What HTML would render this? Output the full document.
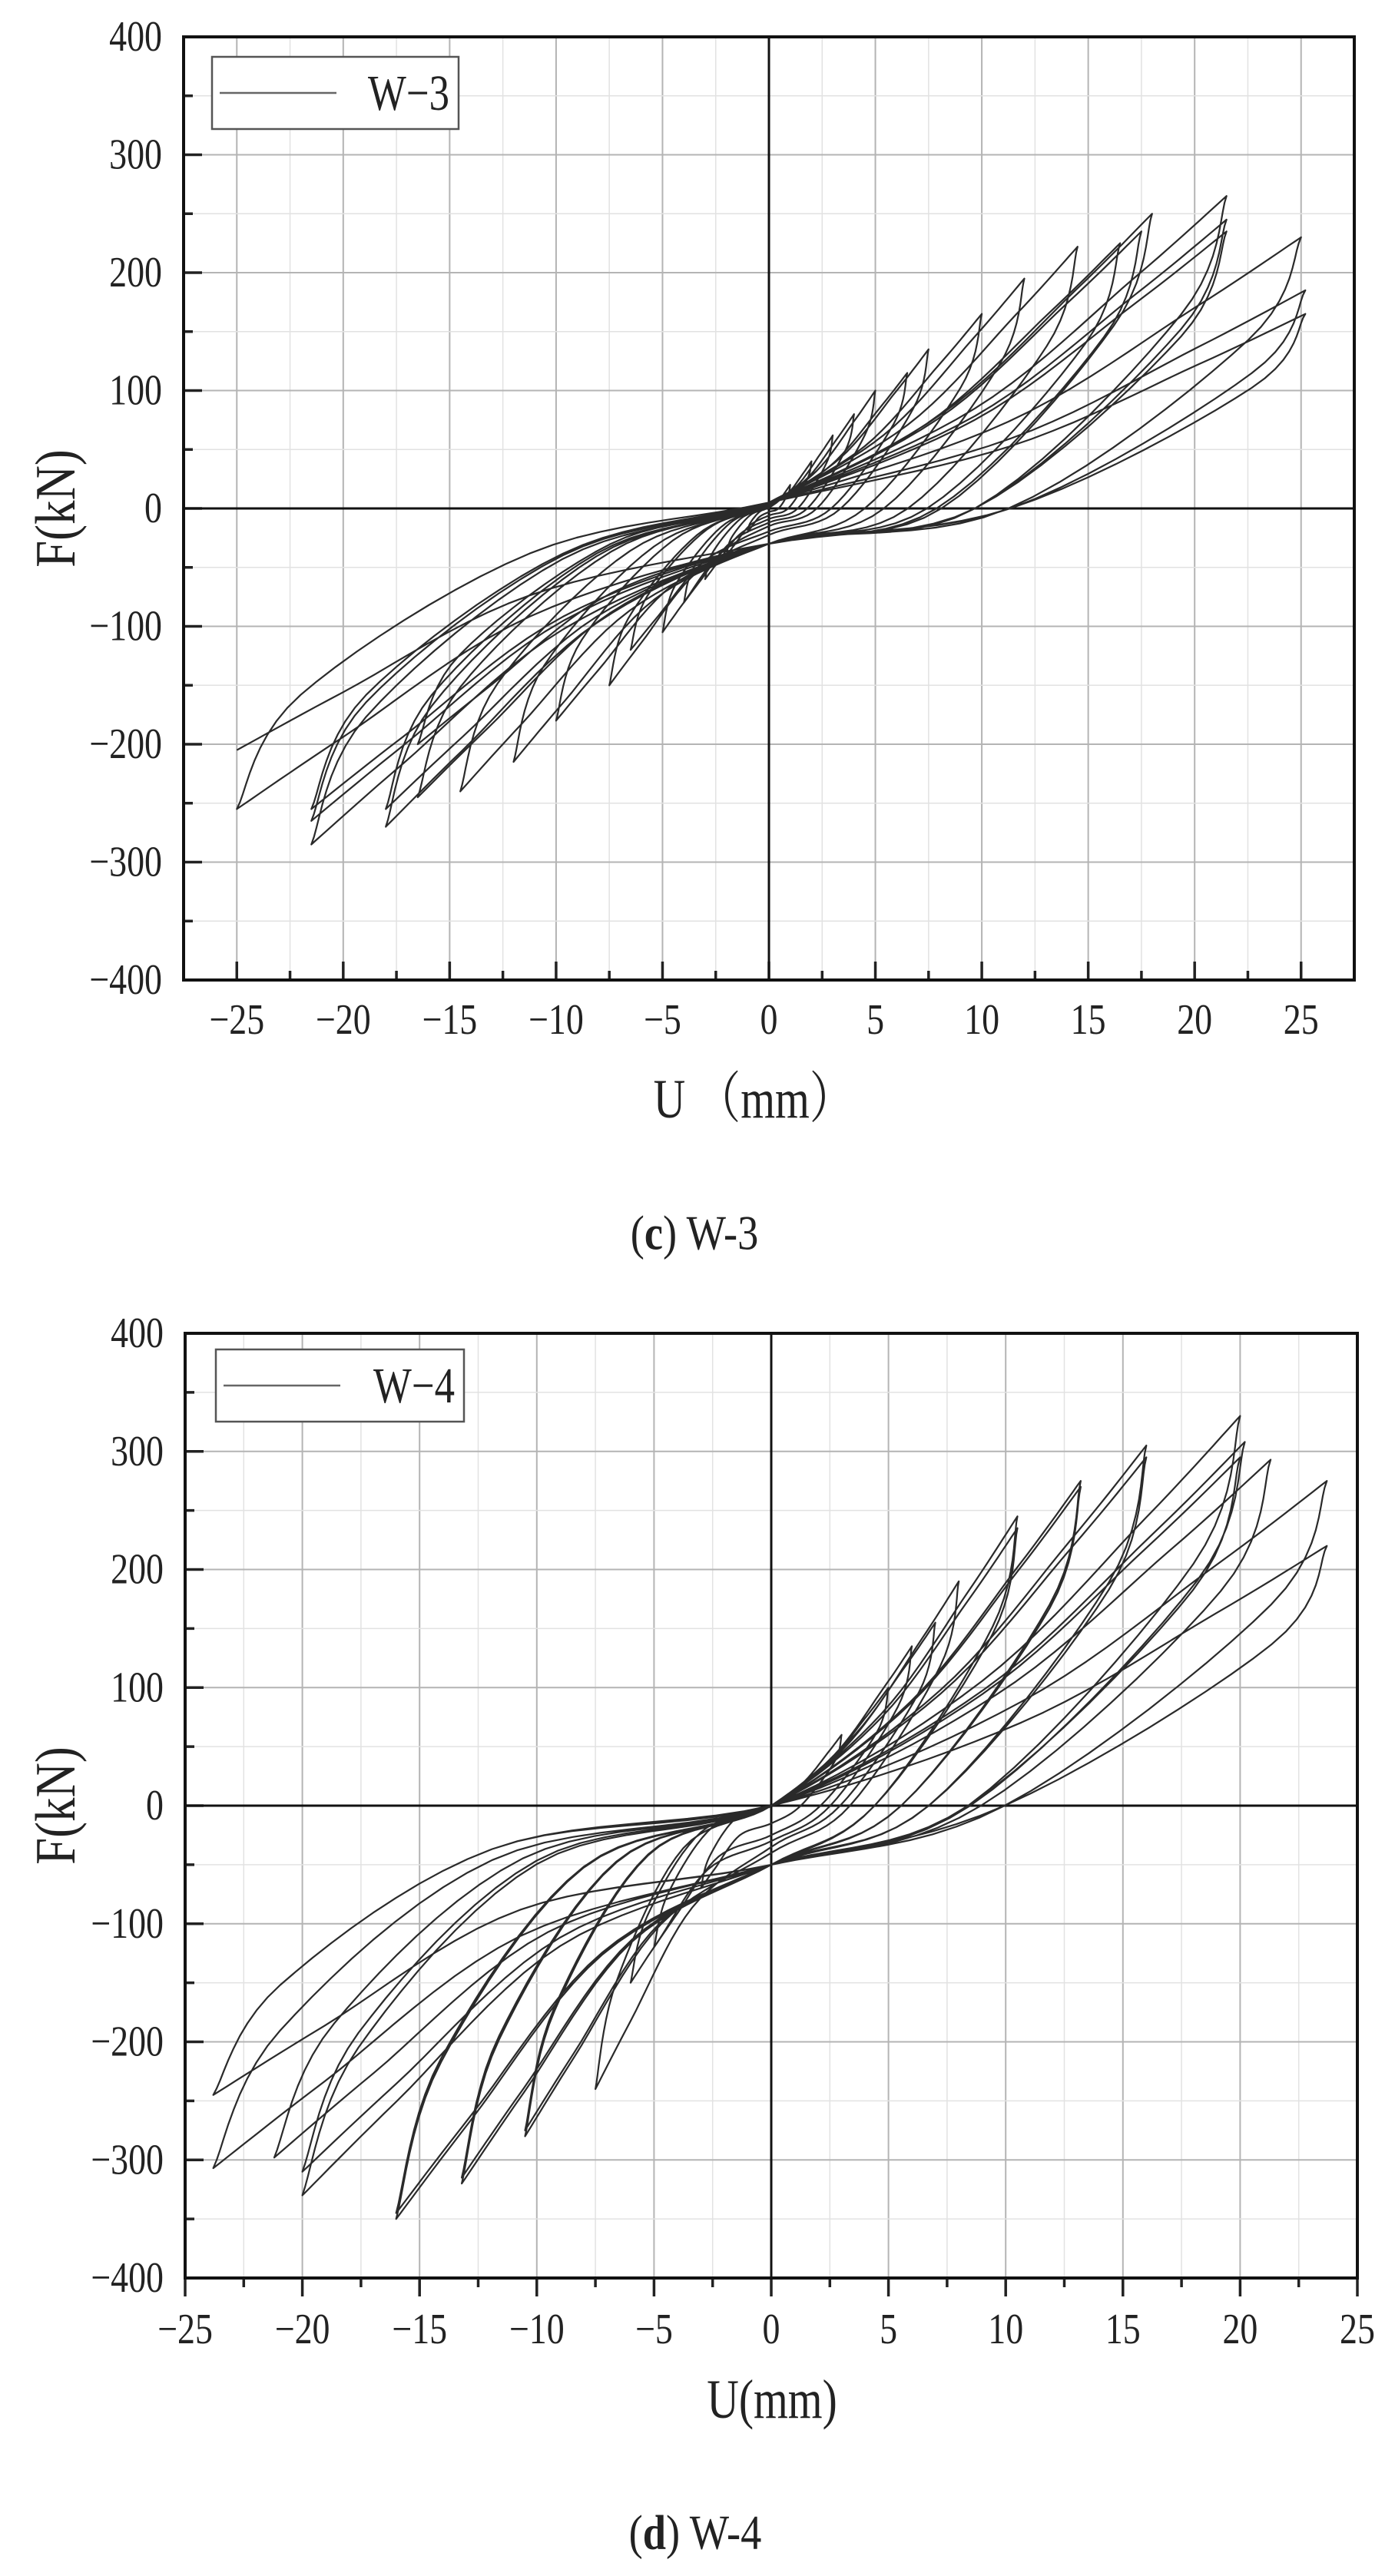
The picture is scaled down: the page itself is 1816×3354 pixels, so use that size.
<!DOCTYPE html>
<html><head><meta charset="utf-8"><style>
html,body{margin:0;padding:0;background:#fff;}
svg{display:block;}
text{font-family:"Liberation Serif","Noto Serif CJK SC",serif;fill:#222;}
</style></head><body>
<svg id="s" width="1816" height="3354" viewBox="0 0 1816 3354" xmlns="http://www.w3.org/2000/svg">
<g id="c1"></g><g id="c2"></g>
<g transform="translate(72 662) rotate(-90) scale(0.85 1)"><text x="0" y="0" font-size="74" text-anchor="middle" dominant-baseline="central">F(kN)</text></g>
<g transform="translate(981 1432) scale(0.8 1)"><text x="0" y="0" font-size="72" text-anchor="middle" dominant-baseline="central">U （mm）</text></g>
<g transform="translate(904 1605) scale(0.85 1)"><text x="0" y="0" font-size="64" text-anchor="middle" dominant-baseline="central">(<tspan font-weight="bold">c</tspan>) W-3</text></g>
<g transform="translate(72 2351) rotate(-90) scale(0.85 1)"><text x="0" y="0" font-size="74" text-anchor="middle" dominant-baseline="central">F(kN)</text></g>
<g transform="translate(1005 3125) scale(0.8 1)"><text x="0" y="0" font-size="72" text-anchor="middle" dominant-baseline="central">U(mm)</text></g>
<g transform="translate(905 3297) scale(0.85 1)"><text x="0" y="0" font-size="64" text-anchor="middle" dominant-baseline="central">(<tspan font-weight="bold">d</tspan>) W-4</text></g>
</svg>
<script>
var NS="http://www.w3.org/2000/svg";
function el(p,t,a,txt){var e=document.createElementNS(NS,t);for(var k in a)e.setAttribute(k,a[k]);if(txt!=null)e.textContent=txt;p.appendChild(e);return e;}
function txt(g,x,y,size,anchor,s,sx){var gg=el(g,'g',{transform:'translate('+x+' '+y+') scale('+(sx||0.82)+' 1)'});el(gg,'text',{x:0,y:0,'font-size':size,'text-anchor':anchor,'dominant-baseline':'central'},s);}
function chart(g,o){
 var X=function(v){return o.L+(v-o.xmin)/(o.xmax-o.xmin)*(o.R-o.L);};
 var Y=function(v){return o.T+(400-v)/800*(o.B-o.T);};
 for(var v=-25;v<=25;v+=2.5){var x=X(v);if(x<=o.L+1||x>=o.R-1)continue;el(g,'line',{x1:x,x2:x,y1:o.T,y2:o.B,stroke:(v%5==0)?'#b4b4b4':'#e2e2e2','stroke-width':(v%5==0)?2:1.5});}
 for(var v=-350;v<=350;v+=50){var y=Y(v);el(g,'line',{x1:o.L,x2:o.R,y1:y,y2:y,stroke:(v%100==0)?'#b4b4b4':'#e2e2e2','stroke-width':(v%100==0)?2:1.5});}
 for(var v=-25;v<=25;v+=2.5){var x=X(v),len=(v%5==0)?24:12;
  if(o.tin) el(g,'line',{x1:x,x2:x,y1:o.B,y2:o.B-len,stroke:'#222','stroke-width':3.5});
  else el(g,'line',{x1:x,x2:x,y1:o.B,y2:o.B+len,stroke:'#222','stroke-width':3.5});
  if(v%5==0) txt(g,x,o.ty,56,'middle',(v<0?'\u2212'+(-v):''+v));}
 for(var v=-400;v<=400;v+=50){var y=Y(v),len=(v%100==0)?24:12;
  el(g,'line',{x1:o.L,x2:o.L+len,y1:y,y2:y,stroke:'#222','stroke-width':3.5});
  if(v%100==0) txt(g,o.L-28,y,56,'end',(v<0?'\u2212'+(-v):''+v));}
 el(g,'line',{x1:X(0),x2:X(0),y1:o.T,y2:o.B,stroke:'#111','stroke-width':3});
 el(g,'line',{x1:o.L,x2:o.R,y1:Y(0),y2:Y(0),stroke:'#111','stroke-width':3});
 function cr(P){
  var out=[];for(var i=0;i<P.length-1;i++){var p0=P[Math.max(0,i-1)],p1=P[i],p2=P[i+1],p3=P[Math.min(P.length-1,i+2)];
   for(var t=0;t<1;t+=0.1){var t2=t*t,t3=t2*t;
    out.push([0.5*((2*p1[0])+(-p0[0]+p2[0])*t+(2*p0[0]-5*p1[0]+4*p2[0]-p3[0])*t2+(-p0[0]+3*p1[0]-3*p2[0]+p3[0])*t3),
              0.5*((2*p1[1])+(-p0[1]+p2[1])*t+(2*p0[1]-5*p1[1]+4*p2[1]-p3[1])*t2+(-p0[1]+3*p1[1]-3*p2[1]+p3[1])*t3)]);}}
  out.push(P[P.length-1]);return out;}
 var cur=[0,0],all=[];
 for(var i=0;i<o.pos.length;i++){
  var p=o.pos[i],n=o.neg[Math.min(i,o.neg.length-1)];
  var sp=Math.min(1,p[0]/10),sn=Math.min(1,-n[0]/10);
  var A=[cur,[cur[0]*0.88,cur[1]*0.62],[cur[0]*o.ar,cur[1]*0.15],[0,o.za*sn],[p[0]*0.45,p[1]*0.32],[p[0]*0.8,p[1]*0.74],p];
  var D=[p,[p[0]*0.9,p[1]*0.62],[p[0]*o.dr,0],[0,o.zd*sp],[n[0]*0.45,n[1]*0.36],[n[0]*0.8,n[1]*0.76],n];
  all=all.concat(cr(A),cr(D));cur=n;}
 var d='M'+all.map(function(q){return X(q[0]).toFixed(1)+','+Y(q[1]).toFixed(1);}).join('L');
 el(g,'path',{d:d,fill:'none',stroke:'#2a2a2a','stroke-width':2.2,'stroke-linejoin':'round'});
 el(g,'rect',{x:o.L,y:o.T,width:o.R-o.L,height:o.B-o.T,fill:'none',stroke:'#111','stroke-width':4});
 el(g,'rect',{x:o.lg[0],y:o.lg[1],width:o.lg[2],height:o.lg[3],fill:'#fff',stroke:'#555','stroke-width':2.5});
 var ly=o.lg[1]+o.lg[3]/2;
 el(g,'line',{x1:o.lg[0]+10,x2:o.lg[0]+162,y1:ly,y2:ly,stroke:'#666','stroke-width':2.5});
 txt(g,o.lg[0]+o.lg[2]-12,ly,66,'end',o.name,0.8);
}
chart(document.getElementById('c1'),{L:239,R:1763,T:48,B:1276,xmin:-27.5,xmax:27.5,tin:true,ty:1328,name:'W\u22123',
 lg:[276,74,321,94],ar:0.45,dr:0.45,za:5,zd:-30,
 pos:[[1,20],[2,40],[3,62],[4,80],[5,100],[6.5,115],[7.5,135],[10,165],[12,195],[14.5,222],[16.5,225],[17.5,235],[18,250],[21.5,265],[21.5,245],[21.5,235],[25,230],[25.2,185],[25.2,165]],
 neg:[[-1,-20],[-2,-40],[-3,-60],[-4,-80],[-5,-105],[-6.5,-120],[-7.5,-150],[-10,-180],[-12,-215],[-14.5,-240],[-16.5,-245],[-16.5,-200],[-18,-255],[-18,-270],[-21.5,-285],[-21.5,-265],[-21.5,-255],[-25,-255],[-25,-205],[-25,-185]]});
chart(document.getElementById('c2'),{L:241,R:1767,T:1736,B:2966,xmin:-25,xmax:25,tin:false,ty:3033,name:'W\u22124',
 lg:[281,1757,323,94],ar:0.5,dr:0.42,za:0,zd:-50,
 pos:[[3,60],[5,100],[6,135],[7,155],[8,190],[10.5,245],[10.5,235],[13.2,275],[13.2,270],[16,305],[16,295],[20,330],[20.2,308],[20,295],[21.3,293],[23.7,275],[23.7,220]],
 neg:[[-3,-70],[-5,-120],[-6,-150],[-7.5,-240],[-10.5,-280],[-10.5,-275],[-13.2,-320],[-13.2,-315],[-16,-350],[-16,-345],[-20,-330],[-20,-310],[-21.2,-298],[-23.8,-307],[-23.8,-245],[-23.8,-245],[-23.8,-245]]});
</script>
</body></html>
